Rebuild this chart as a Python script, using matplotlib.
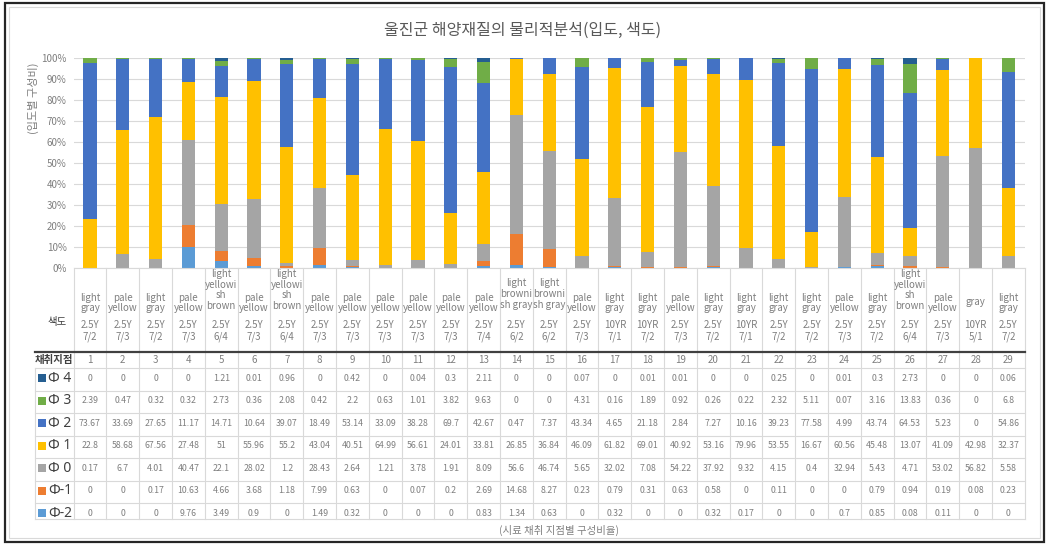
import matplotlib
matplotlib.use("Agg")
import matplotlib.pyplot as plt
import numpy as np
from matplotlib.patches import Rectangle
from matplotlib.ticker import PercentFormatter

plt.rcParams["font.family"] = ["Noto Sans CJK KR", "DejaVu Sans"]

# --- data -------------------------------------------------------------
sites = list(range(1, 30))
color_names = [
    "light\ngray", "pale\nyellow", "light\ngray", "pale\nyellow",
    "light\nyellowi\nsh\nbrown", "pale\nyellow", "light\nyellowi\nsh\nbrown",
    "pale\nyellow", "pale\nyellow", "pale\nyellow", "pale\nyellow", "pale\nyellow",
    "pale\nyellow", "light\nbrowni\nsh gray", "light\nbrowni\nsh gray", "pale\nyellow",
    "light\ngray", "light\ngray", "pale\nyellow", "light\ngray", "light\ngray",
    "light\ngray", "light\ngray", "pale\nyellow", "light\ngray",
    "light\nyellowi\nsh\nbrown", "pale\nyellow", "gray", "light\ngray",
]
munsell = [
    "2.5Y\n7/2", "2.5Y\n7/3", "2.5Y\n7/2", "2.5Y\n7/3", "2.5Y\n6/4", "2.5Y\n7/3",
    "2.5Y\n6/4", "2.5Y\n7/3", "2.5Y\n7/3", "2.5Y\n7/3", "2.5Y\n7/3", "2.5Y\n7/3",
    "2.5Y\n7/4", "2.5Y\n6/2", "2.5Y\n6/2", "2.5Y\n7/3", "10YR\n7/1", "10YR\n7/2",
    "2.5Y\n7/3", "2.5Y\n7/2", "10YR\n7/1", "2.5Y\n7/2", "2.5Y\n7/2", "2.5Y\n7/3",
    "2.5Y\n7/2", "2.5Y\n6/4", "2.5Y\n7/3", "10YR\n5/1", "2.5Y\n7/2",
]

phi4 = [0, 0, 0, 0, 1.21, 0.01, 0.96, 0, 0.42, 0, 0.04, 0.3, 2.11, 0,
        0, 0.07, 0, 0.01, 0.01, 0, 0, 0.25, 0, 0.01, 0.3, 2.73, 0, 0, 0.06]
phi3 = [2.39, 0.47, 0.32, 0.32, 2.73, 0.36, 2.08, 0.42, 2.2, 0.63, 1.01, 3.82, 9.63, 0,
        0, 4.31, 0.16, 1.89, 0.92, 0.26, 0.22, 2.32, 5.11, 0.07, 3.16, 13.83, 0.36, 0, 6.8]
phi2 = [73.67, 33.69, 27.65, 11.17, 14.71, 10.64, 39.07, 18.49, 53.14, 33.09, 38.28, 69.7, 42.67, 0.47,
        7.37, 43.34, 4.65, 21.18, 2.84, 7.27, 10.16, 39.23, 77.58, 4.99, 43.74, 64.53, 5.23, 0, 54.86]
phi1 = [22.8, 58.68, 67.56, 27.48, 51, 55.96, 55.2, 43.04, 40.51, 64.99, 56.61, 24.01, 33.81, 26.85,
        36.84, 46.09, 61.82, 69.01, 40.92, 53.16, 79.96, 53.55, 16.67, 60.56, 45.48, 13.07, 41.09, 42.98, 32.37]
phi0 = [0.17, 6.7, 4.01, 40.47, 22.1, 28.02, 1.2, 28.43, 2.64, 1.21, 3.78, 1.91, 8.09, 56.6,
        46.74, 5.65, 32.02, 7.08, 54.22, 37.92, 9.32, 4.15, 0.4, 32.94, 5.43, 4.71, 53.02, 56.82, 5.58]
phim1 = [0, 0, 0.17, 10.63, 4.66, 3.68, 1.18, 7.99, 0.63, 0, 0.07, 0.2, 2.69, 14.68,
         8.27, 0.23, 0.79, 0.31, 0.63, 0.58, 0, 0.11, 0, 0, 0.79, 0.94, 0.19, 0.08, 0.23]
phim2 = [0, 0, 0, 9.76, 3.49, 0.9, 0, 1.49, 0.32, 0, 0, 0, 0.83, 1.34,
         0.63, 0, 0.32, 0, 0, 0.32, 0.17, 0, 0, 0.7, 0.85, 0.08, 0.11, 0, 0]

# table order, top to bottom (bars stack in reverse)
series_labels = ["Φ 4", "Φ 3", "Φ 2", "Φ 1", "Φ 0", "Φ-1", "Φ-2"]
series_values = [phi4, phi3, phi2, phi1, phi0, phim1, phim2]
series_colors = ["#255E91", "#70AD47", "#4472C4", "#FFC000", "#A5A5A5", "#ED7D31", "#5B9BD5"]

# --- layout (pixels) --------------------------------------------------
W, H = 1049, 549
col_left, col_w = 73.6, 32.8
n = len(sites)
y_zero, y_full = 268, 58

fig = plt.figure(figsize=(W / 100, H / 100), dpi=100)
ax = fig.add_axes([col_left / W, 1 - y_zero / H, n * col_w / W, (y_zero - y_full) / H])
tab = fig.add_axes([col_left / W, 0, n * col_w / W, 1])
tab.set_xlim(-0.5, n - 0.5)
tab.set_ylim(H, 0)
tab.axis("off")


def px(x_pixel):
    return (x_pixel - col_left) / col_w - 0.5


# --- bars -------------------------------------------------------------
x = np.arange(n)
values = np.array(series_values, dtype=float)
fractions = values / values.sum(axis=0)
bottom = np.zeros(n)
for frac, color in zip(fractions[::-1], series_colors[::-1]):
    ax.bar(x, frac, width=0.4, bottom=bottom, color=color, linewidth=0, zorder=2)
    bottom += frac

ax.set_xlim(-0.5, n - 0.5)
ax.set_ylim(0, 1)
ax.set_yticks(np.arange(0, 1.01, 0.1))
ax.yaxis.set_major_formatter(PercentFormatter(1.0, decimals=0))
ax.tick_params(axis="y", length=0, pad=5, labelsize=7, labelcolor="#7F7F7F")
ax.set_xticks([])
ax.yaxis.grid(True, color="#D9D9D9", linewidth=0.8)
ax.set_axisbelow(True)
for spine in ax.spines.values():
    spine.set_visible(False)

# --- table ------------------------------------------------------------
grid_c = "#D9D9D9"
text_c = "#7F7F7F"
dark_c = "#404040"
row_top = 368
row_h = 22.5
table_bottom = 519
name_centers = {1: 302, 2: 303, 3: 294, 4: 290}

tab.plot([-0.5, n - 0.5], [y_zero, y_zero], color=grid_c, lw=0.8, clip_on=False)
for i in range(n + 1):
    tab.plot([i - 0.5, i - 0.5], [y_zero, table_bottom], color=grid_c, lw=0.8, clip_on=False)
tab.plot([px(35), px(35)], [row_top, table_bottom], color=grid_c, lw=0.8, clip_on=False)
for k in range(len(series_labels)):
    y = row_top + k * row_h
    tab.plot([px(35), n - 0.5], [y, y], color=grid_c, lw=0.8, clip_on=False)
tab.plot([px(35), n - 0.5], [table_bottom, table_bottom], color=grid_c, lw=0.8, clip_on=False)
tab.plot([px(35), n - 0.5], [352, 352], color=dark_c, lw=1.6, clip_on=False)

for i in range(n):
    lines = color_names[i].count("\n") + 1
    tab.text(i, name_centers[lines], color_names[i], ha="center", va="center", fontsize=7,
             color=text_c, linespacing=1.12, clip_on=False)
    tab.text(i, 331, munsell[i], ha="center", va="center", fontsize=7,
             color=text_c, linespacing=1.2, clip_on=False)
    tab.text(i, 360, str(sites[i]), ha="center", va="center", fontsize=7,
             color=text_c, clip_on=False)

tab.text(px(57), 322, "색도", ha="center", va="center", fontsize=7.5, color=dark_c, clip_on=False)
tab.text(px(54), 360, "채취지점", ha="center", va="center", fontsize=7.5,
         fontweight="bold", color=dark_c, clip_on=False)

for k, (label, vals, color) in enumerate(zip(series_labels, series_values, series_colors)):
    yc = row_top + (k + 0.5) * row_h - 1
    tab.add_patch(Rectangle((px(38), yc - 4), 8 / col_w, 8, facecolor=color,
                            edgecolor="none", clip_on=False))
    tab.text(px(48), yc, label, ha="left", va="center", fontsize=10,
             family=["Noto Sans", "DejaVu Sans"], color=dark_c, clip_on=False)
    for i, v in enumerate(vals):
        tab.text(i, yc, f"{v:g}", ha="center", va="center", fontsize=6.3,
                 color=text_c, clip_on=False)

# --- titles and frame -------------------------------------------------
fig.text(523 / W, 1 - 30 / H, "울진군 해양재질의 물리적분석(입도, 색도)", ha="center",
         va="center", fontsize=11.5, color="#595959")
fig.text(33 / W, 1 - 98 / H, "(입도별 구성비)", rotation=90, ha="center", va="center",
         fontsize=8, color=text_c)
fig.text(559 / W, 1 - 530 / H, "(시료 채취 지점별 구성비율)", ha="center", va="center",
         fontsize=7.5, color=text_c)

fig.add_artist(Rectangle((9 / W, 1 - 538 / H), 1031 / W, 531 / H, transform=fig.transFigure,
                         fill=False, edgecolor="#D9D9D9", linewidth=0.8))
fig.add_artist(Rectangle((5 / W, 1 - 542 / H), 1039 / W, 539 / H, transform=fig.transFigure,
                         fill=False, edgecolor="#262626", linewidth=1.6))

fig.savefig("out.png", dpi=100)
plt.close(fig)
